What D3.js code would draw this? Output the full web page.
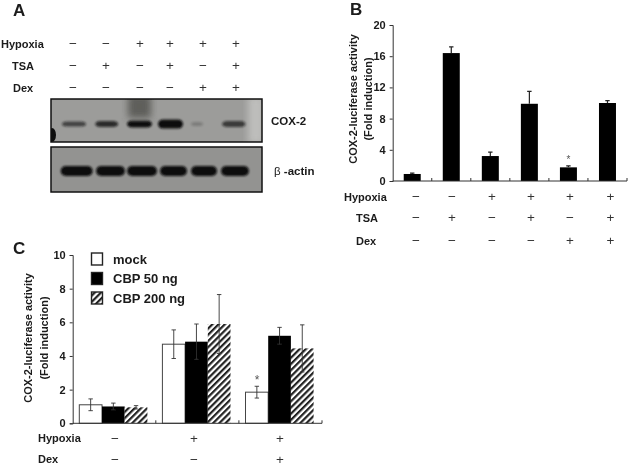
<!DOCTYPE html>
<html><head><meta charset="utf-8">
<script src="https://cdn.jsdelivr.net/npm/d3@7"></script>
<style>
html,body{margin:0;padding:0;background:#fff;}
svg{display:block;}
text{font-family:"Liberation Sans",Arial,sans-serif;font-weight:bold;fill:#1a1a1a;}
text.sign{font-weight:normal;fill:#333;}
text.star{font-weight:normal;fill:#555;}
</style></head><body>
<script>
const treatmentsA = ["Hypoxia","TSA","Dex"];
const signsA = [["−","−","+","+","+","+"],["−","+","−","+","−","+"],["−","−","−","−","+","+"]];
const cox2Intensity = [0.62,0.78,0.98,1.0,0.22,0.68];
const cox2Width = [24,23,25,25,12,24];
const cox2Height = [5,6,7,9,4,6];
const cox2Centers = [74,106.7,139.5,170.5,197,234];
const actinIntensity = [1,1,1,1,1,1];
const actinWidth = [32,29,30,27,26,28];
const actinCenters = [76.7,110.5,142,173.5,204,235];

const valuesB = [0.9,16.4,3.2,9.9,1.75,10.0];
const errorsB = [0.1,0.8,0.5,1.6,0.2,0.3];
const ticksB = [0,4,8,12,16,20];
const signsB = [["−","−","+","+","+","+"],["−","+","−","+","−","+"],["−","−","−","−","+","+"]];

const groupsC = ["g1","g2","g3"];
const seriesC = ["mock","CBP 50 ng","CBP 200 ng"];
const mockValues = [1.1,4.7,1.85];
const mockErrors = [0.35,0.85,0.35];
const cbp50Values = [1.0,4.85,5.2];
const cbp50Errors = [0.2,1.05,0.5];
const cbp200Values = [0.95,5.9,4.45];
const cbp200Errors = [0.1,1.75,1.4];
const ticksC = [0,2,4,6,8,10];
const signsC = [["−","+","+"],["−","−","+"]];
const treatmentsC = ["Hypoxia","Dex"];

const svg = d3.select("body").append("svg").attr("width",630).attr("height",466);
const defs = svg.append("defs");
const addBlur=(id,s)=>defs.append("filter").attr("id",id).attr("x","-30%").attr("y","-80%").attr("width","160%").attr("height","260%")
  .append("feGaussianBlur").attr("stdDeviation",s);
addBlur("soft",0.5); addBlur("band",1.3); addBlur("smear",3.5);
const pat = defs.append("pattern").attr("id","hatch").attr("width",4.4).attr("height",4.4)
  .attr("patternUnits","userSpaceOnUse").attr("patternTransform","rotate(45)");
pat.append("rect").attr("width",4.4).attr("height",4.4).attr("fill","#fff");
pat.append("rect").attr("width",2.2).attr("height",4.4).attr("fill","#222");

const root = svg.append("g").attr("filter","url(#soft)");
const label=(g,x,y,t,size,anchor)=>g.append("text").attr("x",x).attr("y",y).attr("font-size",size).attr("text-anchor",anchor||"start").text(t);
const sign=(g,x,y,t)=>label(g,x,y,t,13.5,"middle").attr("class","sign");

// Panel letters
label(root,13,16,"A",17);
label(root,350,15,"B",17);
label(root,13,254,"C",17);

// Panel A
const gA = root.append("g");
const rowYA=[48,70,92];
treatmentsA.forEach((t,i)=>{
  label(gA,[1,12,13][i],rowYA[i],t,11);
  signsA[i].forEach((s,j)=>sign(gA,[73,106,140,170,203,236][j],rowYA[i],s));
});
function blot(y,h,fill,intens,widths,centers,bandY,heights,color){
  const g = gA.append("g");
  const clipId="clip"+y;
  defs.append("clipPath").attr("id",clipId).append("rect").attr("x",51).attr("y",y).attr("width",211).attr("height",h);
  const inner=g.append("g").attr("clip-path",`url(#${clipId})`);
  inner.append("rect").attr("x",51).attr("y",y).attr("width",211).attr("height",h).attr("fill",fill);
  inner.selectAll("rect.b").data(intens).enter().append("rect").attr("class","b")
    .attr("x",(d,i)=>centers[i]-widths[i]/2).attr("width",(d,i)=>widths[i])
    .attr("y",(d,i)=>bandY-heights[i]/2).attr("height",(d,i)=>heights[i]).attr("rx",5)
    .attr("fill",color).attr("opacity",d=>d).attr("filter","url(#band)");
  g.append("rect").attr("x",51).attr("y",y).attr("width",211).attr("height",h)
    .attr("fill","none").attr("stroke","#111").attr("stroke-width",1.5);
  return inner;
}
const up = blot(99,43,"#9c9c9a",cox2Intensity,cox2Width,cox2Centers,124,cox2Height,"#101010");
up.append("rect").attr("x",128).attr("y",95).attr("width",23).attr("height",23).attr("fill","#4f4f4c").attr("opacity",.8).attr("filter","url(#smear)");
up.append("rect").attr("x",248).attr("y",96).attr("width",16).attr("height",48).attr("fill","#c4c4c2").attr("opacity",.85).attr("filter","url(#smear)");
up.append("ellipse").attr("cx",52).attr("cy",135).attr("rx",4).attr("ry",7).attr("fill","#111");
blot(147,45,"#939391",actinIntensity,actinWidth,actinCenters,171,actinWidth.map(()=>10),"#0c0c0c");
label(gA,271,125,"COX-2",11.5);
gA.append("text").attr("x",274).attr("y",175).attr("font-size",11.5)
  .text("β").style("font-weight","normal").append("tspan").style("font-weight","bold").text(" -actin");

function errBars(g,data,x,y,w,color){
  g.selectAll(null).data(data).enter().append("path")
   .attr("d",d=>{const cx=x(d)+w/2,t=y(d.v+d.e),b=y(d.both?d.v-d.e:d.v);
     return `M${cx},${b}V${t}M${cx-2.2},${t}H${cx+2.2}`+(d.both?`M${cx-2.2},${b}H${cx+2.2}`:"");})
   .attr("stroke",d=>d.color||color).attr("stroke-width",d=>d.both?0.9:1.2).attr("fill","none");
}
function yAxis(g,scale,ticks,xPos,size){
  g.append("g").attr("transform",`translate(${xPos},0)`)
   .call(d3.axisLeft(scale).tickValues(ticks).tickSize(3).tickPadding(4).tickFormat(d3.format("d")))
   .call(a=>{a.selectAll("text").attr("font-size",size);a.selectAll("line,path").attr("stroke","#333").attr("stroke-width",1);});
}
function xBaseline(g,band,y0){
  const [a,b]=band.range();
  g.append("line").attr("x1",a).attr("x2",b).attr("y1",y0).attr("y2",y0).attr("stroke","#333").attr("stroke-width",1);
  g.selectAll(null).data(band.domain()).enter().append("line")
   .attr("x1",d=>band(d)+band.bandwidth()).attr("x2",d=>band(d)+band.bandwidth())
   .attr("y1",y0).attr("y2",y0-3).attr("stroke","#333");
}

// Panel B
const gB = root.append("g");
const yB = d3.scaleLinear().domain([0,20]).range([181,25]);
const xB = d3.scaleBand().domain(d3.range(valuesB.length)).range([392.7,627]);
const bwB = 17;
const offB = (xB.bandwidth()-bwB)/2;
const dataB = valuesB.map((v,i)=>({i,v,e:errorsB[i]}));
gB.selectAll(null).data(dataB).enter().append("rect")
  .attr("x",d=>xB(d.i)+offB).attr("width",bwB)
  .attr("y",d=>yB(d.v)).attr("height",d=>yB(0)-yB(d.v)).attr("fill","#000");
errBars(gB,dataB,d=>xB(d.i)+offB,yB,bwB,"#222");
yAxis(gB,yB,ticksB,392.7,11);
xBaseline(gB,xB,181);
label(gB,568.5,163,"*",10,"middle").attr("class","star");
gB.append("text").attr("transform","translate(357,99) rotate(-90)").attr("text-anchor","middle").attr("font-size",11).text("COX-2-luciferase activity");
gB.append("text").attr("transform","translate(372,99) rotate(-90)").attr("text-anchor","middle").attr("font-size",11).text("(Fold induction)");
const rowYB=[201,222,245];
treatmentsA.forEach((t,i)=>{
  label(gB,[344,356,356][i],rowYB[i],t,11);
  signsB[i].forEach((s,j)=>sign(gB,[416,452,492,531,570,610.5][j],rowYB[i],s));
});

// Panel C
const gC = root.append("g");
const yC = d3.scaleLinear().domain([0,10]).range([423.3,255]);
const xC = d3.scaleBand().domain(groupsC).range([72.7,322]);
const xSub = d3.scaleBand().domain(seriesC).range([6.6,6.6+68.1]);
const valsC=[mockValues,cbp50Values,cbp200Values], errsC=[mockErrors,cbp50Errors,cbp200Errors];
const fills=["#fff","#000","url(#hatch)"];
const dataC = seriesC.flatMap((s,k)=>groupsC.map((g,i)=>({g,s,k,v:valsC[k][i],e:errsC[k][i],both:true,color:"#333"})));
gC.selectAll(null).data(dataC).enter().append("rect")
  .attr("x",d=>xC(d.g)+xSub(d.s)).attr("width",xSub.bandwidth())
  .attr("y",d=>yC(d.v)).attr("height",d=>yC(0)-yC(d.v))
  .attr("fill",d=>fills[d.k]).attr("stroke",d=>d.k===0?"#444":"none").attr("stroke-width",1);
errBars(gC,dataC,d=>xC(d.g)+xSub(d.s),yC,xSub.bandwidth(),"#333");
yAxis(gC,yC,ticksC,72.7,11);
xBaseline(gC,xC,423.3);
label(gC,257,384,"*",12,"middle").attr("class","star");
gC.append("text").attr("transform","translate(32,338) rotate(-90)").attr("text-anchor","middle").attr("font-size",11).text("COX-2-luciferase activity");
gC.append("text").attr("transform","translate(48,338) rotate(-90)").attr("text-anchor","middle").attr("font-size",11).text("(Fold induction)");
seriesC.forEach((s,k)=>{
  const y=[259,278.5,298][k];
  gC.append("rect").attr("x",91.5).attr("y",y-6).attr("width",11).attr("height",12)
    .attr("fill",fills[k]).attr("stroke","#222").attr("stroke-width",1.4);
  label(gC,113,y+4.5,s,13);
});
treatmentsC.forEach((t,i)=>{
  label(gC,38,[442,463][i],t,11);
  signsC[i].forEach((s,j)=>sign(gC,[115,194,280][j],[443,464][i],s));
});
</script></body></html>
